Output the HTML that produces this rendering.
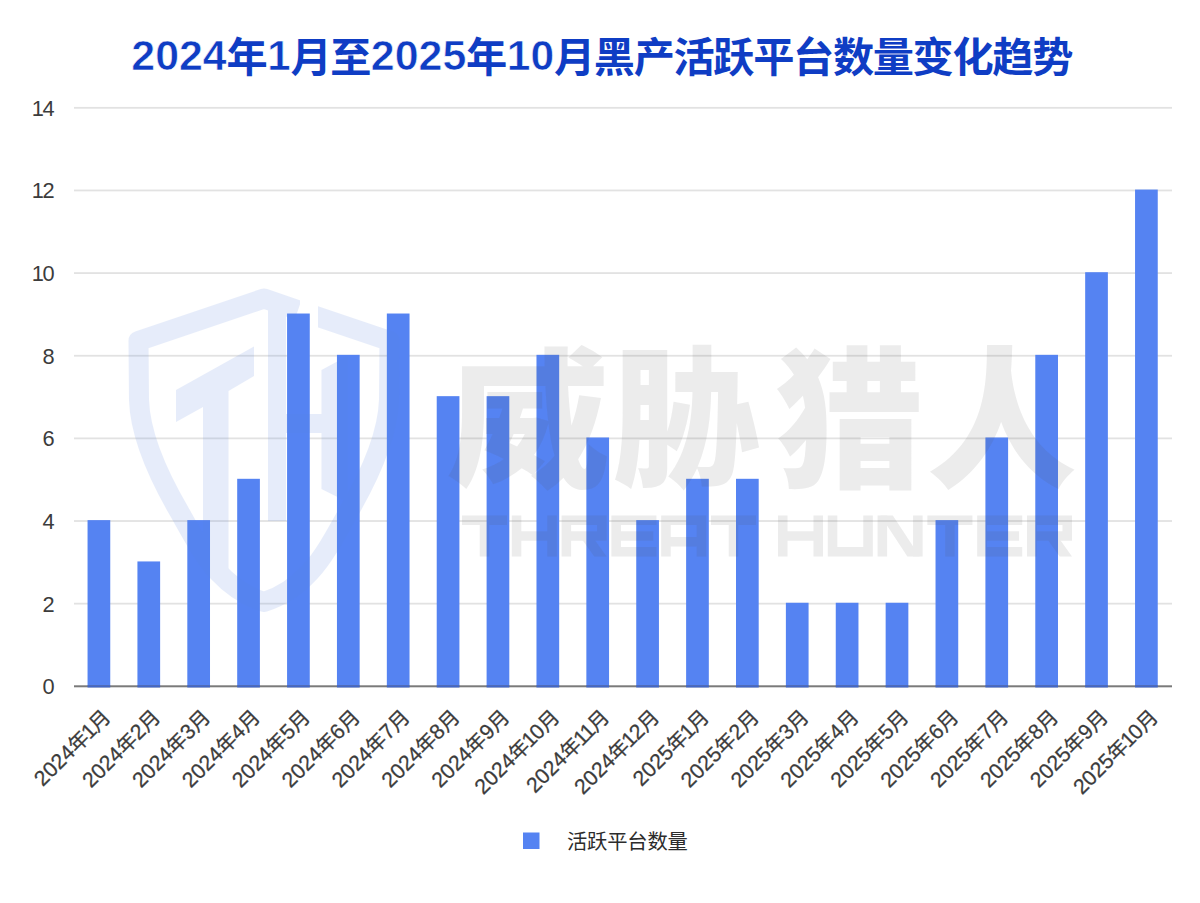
<!DOCTYPE html>
<html><head><meta charset="utf-8"><title>chart</title>
<style>
html,body{margin:0;padding:0;background:#fff;}
body{width:1200px;height:903px;overflow:hidden;font-family:"Liberation Sans","Noto Sans CJK SC",sans-serif;}
svg{display:block;}
svg text{font-family:"Liberation Sans","Noto Sans CJK SC",sans-serif;}
</style></head><body>
<svg width="1200" height="903" viewBox="0 0 1200 903">
<rect width="1200" height="903" fill="#fff"/>
<rect x="74.0" y="602.76" width="1098.0" height="1.8" fill="#E2E2E2"/>
<rect x="74.0" y="520.12" width="1098.0" height="1.8" fill="#E2E2E2"/>
<rect x="74.0" y="437.48" width="1098.0" height="1.8" fill="#E2E2E2"/>
<rect x="74.0" y="354.84" width="1098.0" height="1.8" fill="#E2E2E2"/>
<rect x="74.0" y="272.20" width="1098.0" height="1.8" fill="#E2E2E2"/>
<rect x="74.0" y="189.56" width="1098.0" height="1.8" fill="#E2E2E2"/>
<rect x="74.0" y="106.92" width="1098.0" height="1.8" fill="#E2E2E2"/>
<rect x="87.55" y="520.12" width="22.70" height="167.18" fill="#5583F2"/>
<rect x="137.43" y="561.44" width="22.70" height="125.86" fill="#5583F2"/>
<rect x="187.31" y="520.12" width="22.70" height="167.18" fill="#5583F2"/>
<rect x="237.19" y="478.80" width="22.70" height="208.50" fill="#5583F2"/>
<rect x="287.07" y="313.52" width="22.70" height="373.78" fill="#5583F2"/>
<rect x="336.95" y="354.84" width="22.70" height="332.46" fill="#5583F2"/>
<rect x="386.84" y="313.52" width="22.70" height="373.78" fill="#5583F2"/>
<rect x="436.72" y="396.16" width="22.70" height="291.14" fill="#5583F2"/>
<rect x="486.60" y="396.16" width="22.70" height="291.14" fill="#5583F2"/>
<rect x="536.48" y="354.84" width="22.70" height="332.46" fill="#5583F2"/>
<rect x="586.36" y="437.48" width="22.70" height="249.82" fill="#5583F2"/>
<rect x="636.24" y="520.12" width="22.70" height="167.18" fill="#5583F2"/>
<rect x="686.12" y="478.80" width="22.70" height="208.50" fill="#5583F2"/>
<rect x="736.00" y="478.80" width="22.70" height="208.50" fill="#5583F2"/>
<rect x="785.88" y="602.76" width="22.70" height="84.54" fill="#5583F2"/>
<rect x="835.76" y="602.76" width="22.70" height="84.54" fill="#5583F2"/>
<rect x="885.65" y="602.76" width="22.70" height="84.54" fill="#5583F2"/>
<rect x="935.53" y="520.12" width="22.70" height="167.18" fill="#5583F2"/>
<rect x="985.41" y="437.48" width="22.70" height="249.82" fill="#5583F2"/>
<rect x="1035.29" y="354.84" width="22.70" height="332.46" fill="#5583F2"/>
<rect x="1085.17" y="272.20" width="22.70" height="415.10" fill="#5583F2"/>
<rect x="1135.05" y="189.56" width="22.70" height="497.74" fill="#5583F2"/>
<rect x="74.0" y="685.30" width="1098.0" height="2" fill="#7A7A7A"/>
<rect x="87.55" y="685.30" width="22.70" height="2" fill="#4266C6"/>
<rect x="137.43" y="685.30" width="22.70" height="2" fill="#4266C6"/>
<rect x="187.31" y="685.30" width="22.70" height="2" fill="#4266C6"/>
<rect x="237.19" y="685.30" width="22.70" height="2" fill="#4266C6"/>
<rect x="287.07" y="685.30" width="22.70" height="2" fill="#4266C6"/>
<rect x="336.95" y="685.30" width="22.70" height="2" fill="#4266C6"/>
<rect x="386.84" y="685.30" width="22.70" height="2" fill="#4266C6"/>
<rect x="436.72" y="685.30" width="22.70" height="2" fill="#4266C6"/>
<rect x="486.60" y="685.30" width="22.70" height="2" fill="#4266C6"/>
<rect x="536.48" y="685.30" width="22.70" height="2" fill="#4266C6"/>
<rect x="586.36" y="685.30" width="22.70" height="2" fill="#4266C6"/>
<rect x="636.24" y="685.30" width="22.70" height="2" fill="#4266C6"/>
<rect x="686.12" y="685.30" width="22.70" height="2" fill="#4266C6"/>
<rect x="736.00" y="685.30" width="22.70" height="2" fill="#4266C6"/>
<rect x="785.88" y="685.30" width="22.70" height="2" fill="#4266C6"/>
<rect x="835.76" y="685.30" width="22.70" height="2" fill="#4266C6"/>
<rect x="885.65" y="685.30" width="22.70" height="2" fill="#4266C6"/>
<rect x="935.53" y="685.30" width="22.70" height="2" fill="#4266C6"/>
<rect x="985.41" y="685.30" width="22.70" height="2" fill="#4266C6"/>
<rect x="1035.29" y="685.30" width="22.70" height="2" fill="#4266C6"/>
<rect x="1085.17" y="685.30" width="22.70" height="2" fill="#4266C6"/>
<rect x="1135.05" y="685.30" width="22.70" height="2" fill="#4266C6"/>
<text x="54.5" y="694.15" font-size="21.8" text-anchor="end" fill="#3C3C3C">0</text>
<text x="54.5" y="611.51" font-size="21.8" text-anchor="end" fill="#3C3C3C">2</text>
<text x="54.5" y="528.87" font-size="21.8" text-anchor="end" fill="#3C3C3C">4</text>
<text x="54.5" y="446.23" font-size="21.8" text-anchor="end" fill="#3C3C3C">6</text>
<text x="54.5" y="363.59" font-size="21.8" text-anchor="end" fill="#3C3C3C">8</text>
<text x="54.5" y="280.95" font-size="21.8" text-anchor="end" fill="#3C3C3C">0</text>
<text x="43.98" y="280.95" font-size="21.8" text-anchor="end" fill="#3C3C3C">1</text>
<text x="54.5" y="198.31" font-size="21.8" text-anchor="end" fill="#3C3C3C">2</text>
<text x="43.98" y="198.31" font-size="21.8" text-anchor="end" fill="#3C3C3C">1</text>
<text x="54.5" y="115.67" font-size="21.8" text-anchor="end" fill="#3C3C3C">4</text>
<text x="43.98" y="115.67" font-size="21.8" text-anchor="end" fill="#3C3C3C">1</text>
<g fill="#0F3DC4" stroke="#0F3DC4" stroke-width="0.5">
<text x="131.30" y="69.80" font-size="42.6" font-weight="bold" textLength="95.40" lengthAdjust="spacingAndGlyphs" stroke="#fff" stroke-width="0.6" paint-order="fill stroke">2024</text>
<text x="226.52" y="72.10" font-size="41.2" font-weight="bold" stroke="none">年</text>
<text x="267.15" y="69.80" font-size="42.6" font-weight="bold" textLength="23.40" lengthAdjust="spacingAndGlyphs" stroke="#fff" stroke-width="0.6" paint-order="fill stroke">1</text>
<text x="290.38 330.23" y="72.10" font-size="41.2" font-weight="bold" stroke="none">月至</text>
<text x="370.85" y="69.80" font-size="42.6" font-weight="bold" textLength="95.40" lengthAdjust="spacingAndGlyphs" stroke="#fff" stroke-width="0.6" paint-order="fill stroke">2025</text>
<text x="466.08" y="72.10" font-size="41.2" font-weight="bold" stroke="none">年</text>
<text x="506.70" y="69.80" font-size="42.6" font-weight="bold" textLength="47.40" lengthAdjust="spacingAndGlyphs" stroke="#fff" stroke-width="0.6" paint-order="fill stroke">10</text>
<text x="553.93 593.78 633.63 673.48 713.33 753.18 793.03 832.88 872.73 912.58 952.43 992.28 1032.13" y="72.10" font-size="41.2" font-weight="bold" stroke="none">月黑产活跃平台数量变化趋势</text>
</g>
<g transform="translate(110.90 717.70) rotate(-45)" fill="#3C3C3C"><text x="-97.30" y="1.00" font-size="21.3" stroke="#3C3C3C" stroke-width="0.25">2</text><text x="-85.45" y="1.00" font-size="21.3" stroke="#3C3C3C" stroke-width="0.25">0</text><text x="-73.60" y="1.00" font-size="21.3" stroke="#3C3C3C" stroke-width="0.25">2</text><text x="-61.75" y="1.00" font-size="21.3" stroke="#3C3C3C" stroke-width="0.25">4</text><text x="-49.90" y="1.20" font-size="20.2" stroke="#3C3C3C" stroke-width="0.25">年</text><text x="-30.87" y="1.00" font-size="21.3" stroke="#3C3C3C" stroke-width="0.25">1</text><text x="-20.20" y="1.20" font-size="20.2" stroke="#3C3C3C" stroke-width="0.25">月</text></g>
<g transform="translate(160.78 717.70) rotate(-45)" fill="#3C3C3C"><text x="-99.65" y="1.00" font-size="21.3" stroke="#3C3C3C" stroke-width="0.25">2</text><text x="-87.80" y="1.00" font-size="21.3" stroke="#3C3C3C" stroke-width="0.25">0</text><text x="-75.95" y="1.00" font-size="21.3" stroke="#3C3C3C" stroke-width="0.25">2</text><text x="-64.10" y="1.00" font-size="21.3" stroke="#3C3C3C" stroke-width="0.25">4</text><text x="-52.25" y="1.20" font-size="20.2" stroke="#3C3C3C" stroke-width="0.25">年</text><text x="-32.05" y="1.00" font-size="21.3" stroke="#3C3C3C" stroke-width="0.25">2</text><text x="-20.20" y="1.20" font-size="20.2" stroke="#3C3C3C" stroke-width="0.25">月</text></g>
<g transform="translate(210.66 717.70) rotate(-45)" fill="#3C3C3C"><text x="-99.65" y="1.00" font-size="21.3" stroke="#3C3C3C" stroke-width="0.25">2</text><text x="-87.80" y="1.00" font-size="21.3" stroke="#3C3C3C" stroke-width="0.25">0</text><text x="-75.95" y="1.00" font-size="21.3" stroke="#3C3C3C" stroke-width="0.25">2</text><text x="-64.10" y="1.00" font-size="21.3" stroke="#3C3C3C" stroke-width="0.25">4</text><text x="-52.25" y="1.20" font-size="20.2" stroke="#3C3C3C" stroke-width="0.25">年</text><text x="-32.05" y="1.00" font-size="21.3" stroke="#3C3C3C" stroke-width="0.25">3</text><text x="-20.20" y="1.20" font-size="20.2" stroke="#3C3C3C" stroke-width="0.25">月</text></g>
<g transform="translate(260.54 717.70) rotate(-45)" fill="#3C3C3C"><text x="-99.65" y="1.00" font-size="21.3" stroke="#3C3C3C" stroke-width="0.25">2</text><text x="-87.80" y="1.00" font-size="21.3" stroke="#3C3C3C" stroke-width="0.25">0</text><text x="-75.95" y="1.00" font-size="21.3" stroke="#3C3C3C" stroke-width="0.25">2</text><text x="-64.10" y="1.00" font-size="21.3" stroke="#3C3C3C" stroke-width="0.25">4</text><text x="-52.25" y="1.20" font-size="20.2" stroke="#3C3C3C" stroke-width="0.25">年</text><text x="-32.05" y="1.00" font-size="21.3" stroke="#3C3C3C" stroke-width="0.25">4</text><text x="-20.20" y="1.20" font-size="20.2" stroke="#3C3C3C" stroke-width="0.25">月</text></g>
<g transform="translate(310.42 717.70) rotate(-45)" fill="#3C3C3C"><text x="-99.65" y="1.00" font-size="21.3" stroke="#3C3C3C" stroke-width="0.25">2</text><text x="-87.80" y="1.00" font-size="21.3" stroke="#3C3C3C" stroke-width="0.25">0</text><text x="-75.95" y="1.00" font-size="21.3" stroke="#3C3C3C" stroke-width="0.25">2</text><text x="-64.10" y="1.00" font-size="21.3" stroke="#3C3C3C" stroke-width="0.25">4</text><text x="-52.25" y="1.20" font-size="20.2" stroke="#3C3C3C" stroke-width="0.25">年</text><text x="-32.05" y="1.00" font-size="21.3" stroke="#3C3C3C" stroke-width="0.25">5</text><text x="-20.20" y="1.20" font-size="20.2" stroke="#3C3C3C" stroke-width="0.25">月</text></g>
<g transform="translate(360.30 717.70) rotate(-45)" fill="#3C3C3C"><text x="-99.65" y="1.00" font-size="21.3" stroke="#3C3C3C" stroke-width="0.25">2</text><text x="-87.80" y="1.00" font-size="21.3" stroke="#3C3C3C" stroke-width="0.25">0</text><text x="-75.95" y="1.00" font-size="21.3" stroke="#3C3C3C" stroke-width="0.25">2</text><text x="-64.10" y="1.00" font-size="21.3" stroke="#3C3C3C" stroke-width="0.25">4</text><text x="-52.25" y="1.20" font-size="20.2" stroke="#3C3C3C" stroke-width="0.25">年</text><text x="-32.05" y="1.00" font-size="21.3" stroke="#3C3C3C" stroke-width="0.25">6</text><text x="-20.20" y="1.20" font-size="20.2" stroke="#3C3C3C" stroke-width="0.25">月</text></g>
<g transform="translate(410.19 717.70) rotate(-45)" fill="#3C3C3C"><text x="-99.65" y="1.00" font-size="21.3" stroke="#3C3C3C" stroke-width="0.25">2</text><text x="-87.80" y="1.00" font-size="21.3" stroke="#3C3C3C" stroke-width="0.25">0</text><text x="-75.95" y="1.00" font-size="21.3" stroke="#3C3C3C" stroke-width="0.25">2</text><text x="-64.10" y="1.00" font-size="21.3" stroke="#3C3C3C" stroke-width="0.25">4</text><text x="-52.25" y="1.20" font-size="20.2" stroke="#3C3C3C" stroke-width="0.25">年</text><text x="-32.05" y="1.00" font-size="21.3" stroke="#3C3C3C" stroke-width="0.25">7</text><text x="-20.20" y="1.20" font-size="20.2" stroke="#3C3C3C" stroke-width="0.25">月</text></g>
<g transform="translate(460.07 717.70) rotate(-45)" fill="#3C3C3C"><text x="-99.65" y="1.00" font-size="21.3" stroke="#3C3C3C" stroke-width="0.25">2</text><text x="-87.80" y="1.00" font-size="21.3" stroke="#3C3C3C" stroke-width="0.25">0</text><text x="-75.95" y="1.00" font-size="21.3" stroke="#3C3C3C" stroke-width="0.25">2</text><text x="-64.10" y="1.00" font-size="21.3" stroke="#3C3C3C" stroke-width="0.25">4</text><text x="-52.25" y="1.20" font-size="20.2" stroke="#3C3C3C" stroke-width="0.25">年</text><text x="-32.05" y="1.00" font-size="21.3" stroke="#3C3C3C" stroke-width="0.25">8</text><text x="-20.20" y="1.20" font-size="20.2" stroke="#3C3C3C" stroke-width="0.25">月</text></g>
<g transform="translate(509.95 717.70) rotate(-45)" fill="#3C3C3C"><text x="-99.65" y="1.00" font-size="21.3" stroke="#3C3C3C" stroke-width="0.25">2</text><text x="-87.80" y="1.00" font-size="21.3" stroke="#3C3C3C" stroke-width="0.25">0</text><text x="-75.95" y="1.00" font-size="21.3" stroke="#3C3C3C" stroke-width="0.25">2</text><text x="-64.10" y="1.00" font-size="21.3" stroke="#3C3C3C" stroke-width="0.25">4</text><text x="-52.25" y="1.20" font-size="20.2" stroke="#3C3C3C" stroke-width="0.25">年</text><text x="-32.05" y="1.00" font-size="21.3" stroke="#3C3C3C" stroke-width="0.25">9</text><text x="-20.20" y="1.20" font-size="20.2" stroke="#3C3C3C" stroke-width="0.25">月</text></g>
<g transform="translate(559.83 717.70) rotate(-45)" fill="#3C3C3C"><text x="-109.15" y="1.00" font-size="21.3" stroke="#3C3C3C" stroke-width="0.25">2</text><text x="-97.30" y="1.00" font-size="21.3" stroke="#3C3C3C" stroke-width="0.25">0</text><text x="-85.45" y="1.00" font-size="21.3" stroke="#3C3C3C" stroke-width="0.25">2</text><text x="-73.60" y="1.00" font-size="21.3" stroke="#3C3C3C" stroke-width="0.25">4</text><text x="-61.75" y="1.20" font-size="20.2" stroke="#3C3C3C" stroke-width="0.25">年</text><text x="-42.72" y="1.00" font-size="21.3" stroke="#3C3C3C" stroke-width="0.25">1</text><text x="-32.05" y="1.00" font-size="21.3" stroke="#3C3C3C" stroke-width="0.25">0</text><text x="-20.20" y="1.20" font-size="20.2" stroke="#3C3C3C" stroke-width="0.25">月</text></g>
<g transform="translate(609.71 717.70) rotate(-45)" fill="#3C3C3C"><text x="-106.80" y="1.00" font-size="21.3" stroke="#3C3C3C" stroke-width="0.25">2</text><text x="-94.95" y="1.00" font-size="21.3" stroke="#3C3C3C" stroke-width="0.25">0</text><text x="-83.10" y="1.00" font-size="21.3" stroke="#3C3C3C" stroke-width="0.25">2</text><text x="-71.25" y="1.00" font-size="21.3" stroke="#3C3C3C" stroke-width="0.25">4</text><text x="-59.40" y="1.20" font-size="20.2" stroke="#3C3C3C" stroke-width="0.25">年</text><text x="-40.37" y="1.00" font-size="21.3" stroke="#3C3C3C" stroke-width="0.25">1</text><text x="-30.87" y="1.00" font-size="21.3" stroke="#3C3C3C" stroke-width="0.25">1</text><text x="-20.20" y="1.20" font-size="20.2" stroke="#3C3C3C" stroke-width="0.25">月</text></g>
<g transform="translate(659.59 717.70) rotate(-45)" fill="#3C3C3C"><text x="-109.15" y="1.00" font-size="21.3" stroke="#3C3C3C" stroke-width="0.25">2</text><text x="-97.30" y="1.00" font-size="21.3" stroke="#3C3C3C" stroke-width="0.25">0</text><text x="-85.45" y="1.00" font-size="21.3" stroke="#3C3C3C" stroke-width="0.25">2</text><text x="-73.60" y="1.00" font-size="21.3" stroke="#3C3C3C" stroke-width="0.25">4</text><text x="-61.75" y="1.20" font-size="20.2" stroke="#3C3C3C" stroke-width="0.25">年</text><text x="-42.72" y="1.00" font-size="21.3" stroke="#3C3C3C" stroke-width="0.25">1</text><text x="-32.05" y="1.00" font-size="21.3" stroke="#3C3C3C" stroke-width="0.25">2</text><text x="-20.20" y="1.20" font-size="20.2" stroke="#3C3C3C" stroke-width="0.25">月</text></g>
<g transform="translate(709.47 717.70) rotate(-45)" fill="#3C3C3C"><text x="-97.30" y="1.00" font-size="21.3" stroke="#3C3C3C" stroke-width="0.25">2</text><text x="-85.45" y="1.00" font-size="21.3" stroke="#3C3C3C" stroke-width="0.25">0</text><text x="-73.60" y="1.00" font-size="21.3" stroke="#3C3C3C" stroke-width="0.25">2</text><text x="-61.75" y="1.00" font-size="21.3" stroke="#3C3C3C" stroke-width="0.25">5</text><text x="-49.90" y="1.20" font-size="20.2" stroke="#3C3C3C" stroke-width="0.25">年</text><text x="-30.87" y="1.00" font-size="21.3" stroke="#3C3C3C" stroke-width="0.25">1</text><text x="-20.20" y="1.20" font-size="20.2" stroke="#3C3C3C" stroke-width="0.25">月</text></g>
<g transform="translate(759.35 717.70) rotate(-45)" fill="#3C3C3C"><text x="-99.65" y="1.00" font-size="21.3" stroke="#3C3C3C" stroke-width="0.25">2</text><text x="-87.80" y="1.00" font-size="21.3" stroke="#3C3C3C" stroke-width="0.25">0</text><text x="-75.95" y="1.00" font-size="21.3" stroke="#3C3C3C" stroke-width="0.25">2</text><text x="-64.10" y="1.00" font-size="21.3" stroke="#3C3C3C" stroke-width="0.25">5</text><text x="-52.25" y="1.20" font-size="20.2" stroke="#3C3C3C" stroke-width="0.25">年</text><text x="-32.05" y="1.00" font-size="21.3" stroke="#3C3C3C" stroke-width="0.25">2</text><text x="-20.20" y="1.20" font-size="20.2" stroke="#3C3C3C" stroke-width="0.25">月</text></g>
<g transform="translate(809.23 717.70) rotate(-45)" fill="#3C3C3C"><text x="-99.65" y="1.00" font-size="21.3" stroke="#3C3C3C" stroke-width="0.25">2</text><text x="-87.80" y="1.00" font-size="21.3" stroke="#3C3C3C" stroke-width="0.25">0</text><text x="-75.95" y="1.00" font-size="21.3" stroke="#3C3C3C" stroke-width="0.25">2</text><text x="-64.10" y="1.00" font-size="21.3" stroke="#3C3C3C" stroke-width="0.25">5</text><text x="-52.25" y="1.20" font-size="20.2" stroke="#3C3C3C" stroke-width="0.25">年</text><text x="-32.05" y="1.00" font-size="21.3" stroke="#3C3C3C" stroke-width="0.25">3</text><text x="-20.20" y="1.20" font-size="20.2" stroke="#3C3C3C" stroke-width="0.25">月</text></g>
<g transform="translate(859.11 717.70) rotate(-45)" fill="#3C3C3C"><text x="-99.65" y="1.00" font-size="21.3" stroke="#3C3C3C" stroke-width="0.25">2</text><text x="-87.80" y="1.00" font-size="21.3" stroke="#3C3C3C" stroke-width="0.25">0</text><text x="-75.95" y="1.00" font-size="21.3" stroke="#3C3C3C" stroke-width="0.25">2</text><text x="-64.10" y="1.00" font-size="21.3" stroke="#3C3C3C" stroke-width="0.25">5</text><text x="-52.25" y="1.20" font-size="20.2" stroke="#3C3C3C" stroke-width="0.25">年</text><text x="-32.05" y="1.00" font-size="21.3" stroke="#3C3C3C" stroke-width="0.25">4</text><text x="-20.20" y="1.20" font-size="20.2" stroke="#3C3C3C" stroke-width="0.25">月</text></g>
<g transform="translate(909.00 717.70) rotate(-45)" fill="#3C3C3C"><text x="-99.65" y="1.00" font-size="21.3" stroke="#3C3C3C" stroke-width="0.25">2</text><text x="-87.80" y="1.00" font-size="21.3" stroke="#3C3C3C" stroke-width="0.25">0</text><text x="-75.95" y="1.00" font-size="21.3" stroke="#3C3C3C" stroke-width="0.25">2</text><text x="-64.10" y="1.00" font-size="21.3" stroke="#3C3C3C" stroke-width="0.25">5</text><text x="-52.25" y="1.20" font-size="20.2" stroke="#3C3C3C" stroke-width="0.25">年</text><text x="-32.05" y="1.00" font-size="21.3" stroke="#3C3C3C" stroke-width="0.25">5</text><text x="-20.20" y="1.20" font-size="20.2" stroke="#3C3C3C" stroke-width="0.25">月</text></g>
<g transform="translate(958.88 717.70) rotate(-45)" fill="#3C3C3C"><text x="-99.65" y="1.00" font-size="21.3" stroke="#3C3C3C" stroke-width="0.25">2</text><text x="-87.80" y="1.00" font-size="21.3" stroke="#3C3C3C" stroke-width="0.25">0</text><text x="-75.95" y="1.00" font-size="21.3" stroke="#3C3C3C" stroke-width="0.25">2</text><text x="-64.10" y="1.00" font-size="21.3" stroke="#3C3C3C" stroke-width="0.25">5</text><text x="-52.25" y="1.20" font-size="20.2" stroke="#3C3C3C" stroke-width="0.25">年</text><text x="-32.05" y="1.00" font-size="21.3" stroke="#3C3C3C" stroke-width="0.25">6</text><text x="-20.20" y="1.20" font-size="20.2" stroke="#3C3C3C" stroke-width="0.25">月</text></g>
<g transform="translate(1008.76 717.70) rotate(-45)" fill="#3C3C3C"><text x="-99.65" y="1.00" font-size="21.3" stroke="#3C3C3C" stroke-width="0.25">2</text><text x="-87.80" y="1.00" font-size="21.3" stroke="#3C3C3C" stroke-width="0.25">0</text><text x="-75.95" y="1.00" font-size="21.3" stroke="#3C3C3C" stroke-width="0.25">2</text><text x="-64.10" y="1.00" font-size="21.3" stroke="#3C3C3C" stroke-width="0.25">5</text><text x="-52.25" y="1.20" font-size="20.2" stroke="#3C3C3C" stroke-width="0.25">年</text><text x="-32.05" y="1.00" font-size="21.3" stroke="#3C3C3C" stroke-width="0.25">7</text><text x="-20.20" y="1.20" font-size="20.2" stroke="#3C3C3C" stroke-width="0.25">月</text></g>
<g transform="translate(1058.64 717.70) rotate(-45)" fill="#3C3C3C"><text x="-99.65" y="1.00" font-size="21.3" stroke="#3C3C3C" stroke-width="0.25">2</text><text x="-87.80" y="1.00" font-size="21.3" stroke="#3C3C3C" stroke-width="0.25">0</text><text x="-75.95" y="1.00" font-size="21.3" stroke="#3C3C3C" stroke-width="0.25">2</text><text x="-64.10" y="1.00" font-size="21.3" stroke="#3C3C3C" stroke-width="0.25">5</text><text x="-52.25" y="1.20" font-size="20.2" stroke="#3C3C3C" stroke-width="0.25">年</text><text x="-32.05" y="1.00" font-size="21.3" stroke="#3C3C3C" stroke-width="0.25">8</text><text x="-20.20" y="1.20" font-size="20.2" stroke="#3C3C3C" stroke-width="0.25">月</text></g>
<g transform="translate(1108.52 717.70) rotate(-45)" fill="#3C3C3C"><text x="-99.65" y="1.00" font-size="21.3" stroke="#3C3C3C" stroke-width="0.25">2</text><text x="-87.80" y="1.00" font-size="21.3" stroke="#3C3C3C" stroke-width="0.25">0</text><text x="-75.95" y="1.00" font-size="21.3" stroke="#3C3C3C" stroke-width="0.25">2</text><text x="-64.10" y="1.00" font-size="21.3" stroke="#3C3C3C" stroke-width="0.25">5</text><text x="-52.25" y="1.20" font-size="20.2" stroke="#3C3C3C" stroke-width="0.25">年</text><text x="-32.05" y="1.00" font-size="21.3" stroke="#3C3C3C" stroke-width="0.25">9</text><text x="-20.20" y="1.20" font-size="20.2" stroke="#3C3C3C" stroke-width="0.25">月</text></g>
<g transform="translate(1158.40 717.70) rotate(-45)" fill="#3C3C3C"><text x="-109.15" y="1.00" font-size="21.3" stroke="#3C3C3C" stroke-width="0.25">2</text><text x="-97.30" y="1.00" font-size="21.3" stroke="#3C3C3C" stroke-width="0.25">0</text><text x="-85.45" y="1.00" font-size="21.3" stroke="#3C3C3C" stroke-width="0.25">2</text><text x="-73.60" y="1.00" font-size="21.3" stroke="#3C3C3C" stroke-width="0.25">5</text><text x="-61.75" y="1.20" font-size="20.2" stroke="#3C3C3C" stroke-width="0.25">年</text><text x="-42.72" y="1.00" font-size="21.3" stroke="#3C3C3C" stroke-width="0.25">1</text><text x="-32.05" y="1.00" font-size="21.3" stroke="#3C3C3C" stroke-width="0.25">0</text><text x="-20.20" y="1.20" font-size="20.2" stroke="#3C3C3C" stroke-width="0.25">月</text></g>
<rect x="523" y="832.5" width="16.5" height="16.5" fill="#5583F2"/>
<g fill="#2C2C2C" stroke="#2C2C2C" stroke-width="0.45"><text x="567.00 587.10 607.20 627.30 647.40 667.50" y="848.50" font-size="20.3" stroke="none">活跃平台数量</text></g>
<g fill="#555" opacity="0.11">
<text transform="translate(446.04 474.82) scale(0.16391 0.15026)" x="0" y="0" font-size="1000" font-weight="900">威</text>
<text transform="translate(612.19 474.63) scale(0.14784 0.15215)" x="0" y="0" font-size="1000" font-weight="900">胁</text>
<text transform="translate(774.77 475.64) scale(0.14884 0.15279)" x="0" y="0" font-size="1000" font-weight="900">猎</text>
<text transform="translate(927.01 475.64) scale(0.14974 0.15279)" x="0" y="0" font-size="1000" font-weight="900">人</text>
<g fill="none" stroke="#555" stroke-width="9.5" stroke-linejoin="miter" stroke-linecap="butt"><path transform="translate(462.0 515.5)" d="M0 4.75 H45 M22.5 0 V41"/><path transform="translate(511.8 515.5)" d="M4.75 0 V41 M40.25 0 V41 M4.75 20.5 H40.25"/><path transform="translate(561.6 515.5)" d="M4.75 41 V4.75 H40.25 V20.5 H4.75"/><path transform="translate(561.6 515.5)" d="M18 20.5 H30.35 L45 41 H32.65 Z" fill="#555" stroke="none"/><path transform="translate(611.4 515.5)" d="M45 4.75 H4.75 V36.25 H45 M4.75 20.5 H41.85"/><path transform="translate(661.2 515.5)" d="M4.75 41 V4.75 H40.25 V41 M4.75 26.24 H40.25"/><path transform="translate(711.0 515.5)" d="M0 4.75 H45 M22.5 0 V41"/><path transform="translate(778.0 515.5)" d="M4.75 0 V41 M40.25 0 V41 M4.75 20.5 H40.25"/><path transform="translate(827.8 515.5)" d="M4.75 0 V36.25 H40.25 V0"/><path transform="translate(877.6 515.5)" d="M4.75 41 V0 M40.25 41 V0"/><path transform="translate(877.6 515.5)" d="M2.85 0 H15.2 L42.15 41 H29.8 Z" fill="#555" stroke="none"/><path transform="translate(927.4 515.5)" d="M0 4.75 H45 M22.5 0 V41"/><path transform="translate(977.2 515.5)" d="M45 4.75 H4.75 V36.25 H45 M4.75 20.5 H41.85"/><path transform="translate(1027.0 515.5)" d="M4.75 41 V4.75 H40.25 V20.5 H4.75"/><path transform="translate(1027.0 515.5)" d="M18 20.5 H30.35 L45 41 H32.65 Z" fill="#555" stroke="none"/></g>
</g>
<g opacity="0.145"><clipPath id="wmclip"><path d="M0 0 H300 V345 H318 V0 H1200 V903 H0 Z"/></clipPath><g fill="none" stroke="#5B84E0" stroke-width="20" stroke-linejoin="round" stroke-linecap="butt"><path d="M298 310.1 L264 298.5 L138.5 341 L139 400 C140 430 155 470 179.5 512 C195 540 205 558 218 572 C232 587 248 597 264 602 C280 597 296 587 310 572 C323 558 333 540 348.5 512 C373 470 388 430 389 400 L389.5 341 L306 312.8" clip-path="url(#wmclip)"/></g><g fill="#5B84E0"><path d="M176 390 L254 346.5 L254 376 L228.5 391 L228.5 583 L203 552 L203 407 L176 422 Z"/><path d="M268 296 L286 300 L286 414 L321.5 414 L321.5 370 L347.5 356 L347.5 502 L321.5 489 L321.5 433 L286 433 L286 521 L268 521 Z"/></g></g>
</svg>
</body></html>
